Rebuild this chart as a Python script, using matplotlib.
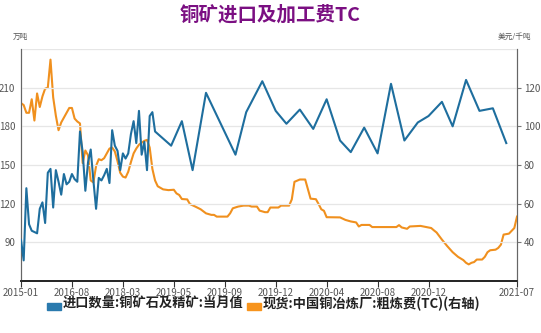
import matplotlib
matplotlib.use("Agg")
import matplotlib.pyplot as plt
from matplotlib.patches import Rectangle

plt.rcParams['font.family'] = ['Noto Sans CJK SC', 'DejaVu Sans']

# Category axis: position index of each date on the shared date axis
tick_labels = ['2015-01', '2016-08', '2018-03', '2019-05', '2019-09',
               '2019-12', '2020-04', '2020-08', '2020-12', '2021-07']
tick_index = [0, 19, 38, 57, 76, 95, 114, 133, 152, 185]
n_categories = 186

# 进口数量:铜矿石及精矿:当月值 (万吨), left axis
imp_index = list(range(0, 51)) + [56, 60, 64, 69, 80, 84, 90, 95, 99, 104, 109,
                                  114, 119, 123, 128, 133, 138, 143, 148, 152,
                                  157, 161, 166, 171, 176, 181]
imp_value = [92, 76, 132, 104, 99, 98, 97, 116, 121, 105,
             144, 147, 117, 146, 137, 127, 143, 135, 137, 143,
             139, 137, 176, 160, 130, 152, 162, 138, 116, 140,
             138, 142, 147, 136, 177, 165, 161, 146, 159, 155,
             159, 174, 184, 167, 192, 158, 168, 146, 188, 191,
             176,
             165, 184, 146, 206, 158, 191, 215, 192, 182, 193, 178,
             201, 169, 160, 179, 159, 213, 169, 183, 188,
             199, 180, 216, 192, 194, 167]

# 现货:中国铜冶炼厂:粗炼费(TC) (美元/千吨), right axis
tc_index = list(range(0, 51)) + [
    51, 53, 55, 57, 58, 59, 60, 62, 63, 65,
    67, 69, 71, 72, 73, 77, 78, 79, 81, 83,
    85, 86, 88, 89, 91, 92, 93, 96, 97, 100,
    101, 102, 104, 106, 108, 110, 111, 112, 113, 114,
    119, 121, 123, 125, 126, 127, 130, 131, 140, 141,
    142, 144, 145, 149, 152, 153, 154, 155, 157, 159,
    161, 163, 165, 166, 167, 168, 169, 170, 172, 173,
    174, 175, 177, 178, 179, 180, 182, 184, 185]
tc_value = [112, 111, 107, 107, 114, 103, 117, 110, 115.5, 119.5,
            120, 134.5, 115, 105.5, 98, 102, 104.5, 107, 109.5, 109.5,
            104, 102.5, 101.5, 81, 87.5, 85, 72, 71, 79.5, 83,
            82.5, 83.5, 86, 88.5, 89, 87, 82, 76, 74, 73.5,
            76.5, 81.5, 86, 88.5, 90.5, 91.5, 92.5, 93, 89, 78,
            72,
            69, 67.4, 67, 67.2, 65.3, 64.5, 62.4, 62.2, 59.8, 58.5,
            57.1, 55, 54.2, 54.2, 53.3, 53.3, 55, 57.6, 58.5, 59,
            59, 58.5, 58.5, 56.4, 55.6, 55.6, 58, 58, 59, 59,
            62.2, 71.3, 72.5, 72.5, 62.6, 62.3, 59.8, 57.1, 56.3, 53,
            52.9, 51.6, 50.8, 50.3, 48.2, 49, 49, 47.9, 47.9, 48.9,
            47.7, 47, 48.2, 48.5, 47.7, 47.4, 46.2, 45.1, 41.4, 38,
            34.9, 32.5, 30.8, 29.4, 28.6, 29.4, 29.8, 31.1, 31.1, 32.5,
            34.9, 35.9, 36.2, 37.1, 38.8, 44, 44.5, 47.4, 53.3]

blue = '#1E6E9E'
orange = '#F0901E'
grid_c = '#E6E6E6'
text_c = '#555555'

fig = plt.figure(figsize=(5.41, 3.33), dpi=100)
ax = fig.add_axes([21 / 541, 1 - 281 / 333, (517 - 21) / 541, (281 - 49) / 333])
ax2 = ax.twinx()

ax.set_xlim(0, n_categories - 1)
ax.set_ylim(60, 240)
ax2.set_ylim(20, 140)

for y in range(90, 241, 30):
    ax.axhline(y, color=grid_c, lw=0.9, zorder=0)

ax2.plot(tc_index, tc_value, color=orange, lw=1.5, zorder=3, solid_joinstyle='round')
ax.plot(imp_index, imp_value, color=blue, lw=1.5, zorder=4, solid_joinstyle='round')
ax.set_zorder(ax2.get_zorder() + 1)
ax.patch.set_visible(False)

ax.set_yticks([90, 120, 150, 180, 210])
ax.tick_params(axis='y', length=0, pad=4, labelsize=7, labelcolor=text_c)
ax2.set_yticks([40, 60, 80, 100, 120])
ax2.tick_params(axis='y', length=3, width=0.8, color='#777777', pad=2,
                labelsize=7, labelcolor=text_c)

ax.set_xticks(tick_index)
ax.set_xticklabels(tick_labels)
ax.tick_params(axis='x', length=4, width=0.8, color='#333333', pad=1,
               labelsize=7, labelcolor=text_c)

for a in (ax, ax2):
    a.spines['top'].set_visible(False)
    a.spines['left'].set_color('#666666')
    a.spines['right'].set_color('#666666')
    a.spines['bottom'].set_color('#222222')
    a.spines['left'].set_linewidth(0.8)
    a.spines['right'].set_linewidth(0.8)
    a.spines['bottom'].set_linewidth(1.2)

fig.text(0.5, 1 - 15 / 333, '铜矿进口及加工费TC', ha='center', va='center',
         fontsize=14, fontweight='bold', color='#7B0F82')
fig.text(20 / 541, 1 - 37 / 333, '万吨', ha='center', va='center',
         fontsize=5.5, color=text_c)
fig.text(514 / 541, 1 - 37 / 333, '美元/千吨', ha='center', va='center',
         fontsize=5.5, color=text_c)

# Legend
ly = 1 - 304 / 333
patch_y = 1 - 310 / 333
fig.patches.append(Rectangle((47 / 541, patch_y), 14 / 541, 7 / 333,
                             transform=fig.transFigure, color='#2A7AAE'))
fig.text(63 / 541, ly, '进口数量:铜矿石及精矿:当月值', ha='left', va='center',
         fontsize=9.5, fontweight='bold', color='#222222')
fig.patches.append(Rectangle((247 / 541, patch_y), 14 / 541, 7 / 333,
                             transform=fig.transFigure, color='#F7941D'))
fig.text(263 / 541, ly, '现货:中国铜冶炼厂:粗炼费(TC)(右轴)', ha='left', va='center',
         fontsize=9.5, fontweight='bold', color='#222222')

fig.savefig('out.png', dpi=100)
